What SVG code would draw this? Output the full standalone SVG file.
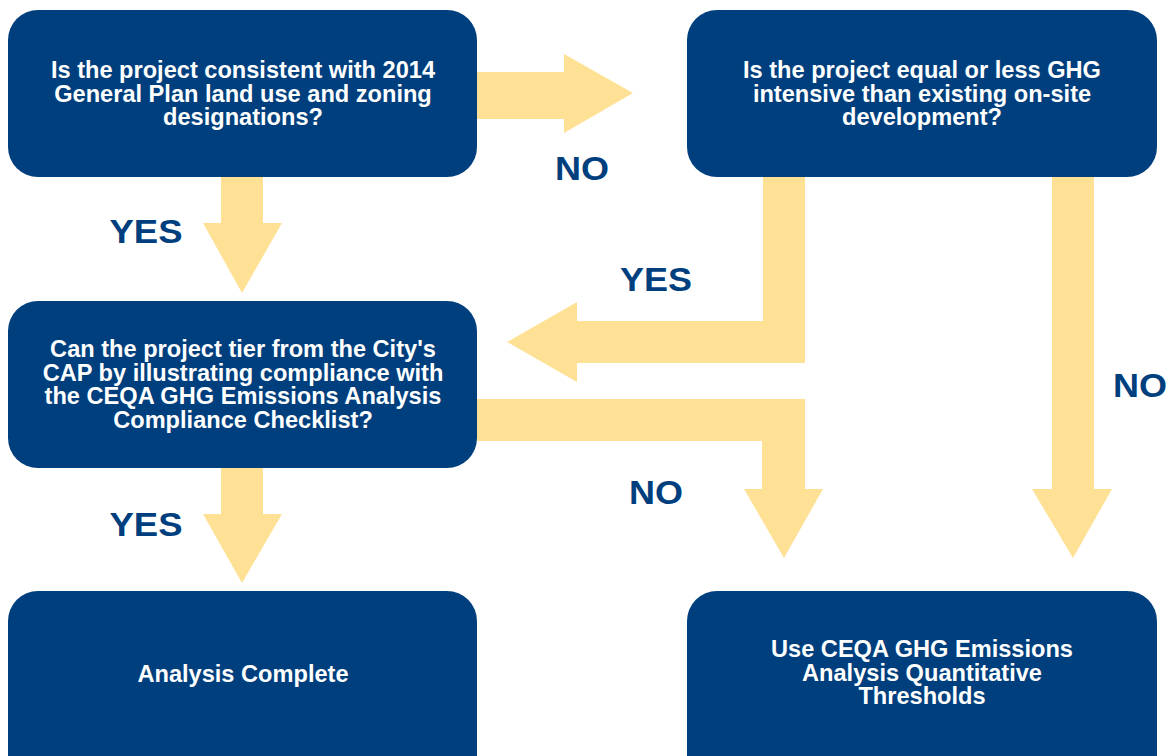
<svg xmlns="http://www.w3.org/2000/svg" width="1174" height="756" viewBox="0 0 1174 756">
<style>
.box{fill:#003f7e}
.bt{fill:#fff;font-family:"Liberation Sans",Arial,sans-serif;font-weight:bold;font-size:23.6px;text-anchor:middle}
.lbl{fill:#003f7e;font-family:"Liberation Sans",Arial,sans-serif;font-weight:bold;font-size:34px;text-anchor:middle}
.arr{fill:#ffe195}
</style>
<rect width="1174" height="756" fill="#fff"/>
<g id="connectors">
<polygon class="arr" points="477,72 564,72 564,54 633,93 564,133 564,119 477,119"/>
<polygon class="arr" points="221,177 263,177 263,223 282,223 242,293 203,223 221,223"/>
<polygon class="arr" points="763,177 805,177 805,363 577,363 577,382 507,342 577,302 577,321 763,321"/>
<polygon class="arr" points="477,399 805,399 805,489 823,489 784,558 744,489 762,489 762,441 477,441"/>
<polygon class="arr" points="1052,177 1094,177 1094,489 1112,489 1073,558 1032,489 1052,489"/>
<polygon class="arr" points="221,468 263,468 263,514 282,514 242,583 203,514 221,514"/>
<text class="lbl" x="582" y="180" textLength="54" lengthAdjust="spacingAndGlyphs">NO</text>
<text class="lbl" x="146" y="243" textLength="73" lengthAdjust="spacingAndGlyphs">YES</text>
<text class="lbl" x="656" y="291" textLength="72" lengthAdjust="spacingAndGlyphs">YES</text>
<text class="lbl" x="1140" y="397" textLength="54" lengthAdjust="spacingAndGlyphs">NO</text>
<text class="lbl" x="656" y="504" textLength="54" lengthAdjust="spacingAndGlyphs">NO</text>
<text class="lbl" x="146" y="536" textLength="73" lengthAdjust="spacingAndGlyphs">YES</text>
</g>
<g id="n1">
<rect class="box" x="8" y="10" width="469" height="167" rx="30"/>
<text class="bt" x="243" y="78">Is the project consistent with 2014</text>
<text class="bt" x="243" y="101.5">General Plan land use and zoning</text>
<text class="bt" x="243" y="125">designations?</text>
</g>
<g id="n2">
<rect class="box" x="687" y="10" width="470" height="167" rx="30"/>
<text class="bt" x="922" y="78">Is the project equal or less GHG</text>
<text class="bt" x="922" y="101.5">intensive than existing on-site</text>
<text class="bt" x="922" y="125">development?</text>
</g>
<g id="n3">
<rect class="box" x="8" y="301" width="469" height="167" rx="30"/>
<text class="bt" x="243" y="357">Can the project tier from the City's</text>
<text class="bt" x="243" y="380.5">CAP by illustrating compliance with</text>
<text class="bt" x="243" y="404">the CEQA GHG Emissions Analysis</text>
<text class="bt" x="243" y="427.5">Compliance Checklist?</text>
</g>
<g id="n4">
<rect class="box" x="8" y="591" width="469" height="195" rx="30"/>
<text class="bt" x="243" y="682">Analysis Complete</text>
</g>
<g id="n5">
<rect class="box" x="687" y="591" width="470" height="195" rx="30"/>
<text class="bt" x="922" y="657">Use CEQA GHG Emissions</text>
<text class="bt" x="922" y="680.5">Analysis Quantitative</text>
<text class="bt" x="922" y="704">Thresholds</text>
</g>
</svg>
